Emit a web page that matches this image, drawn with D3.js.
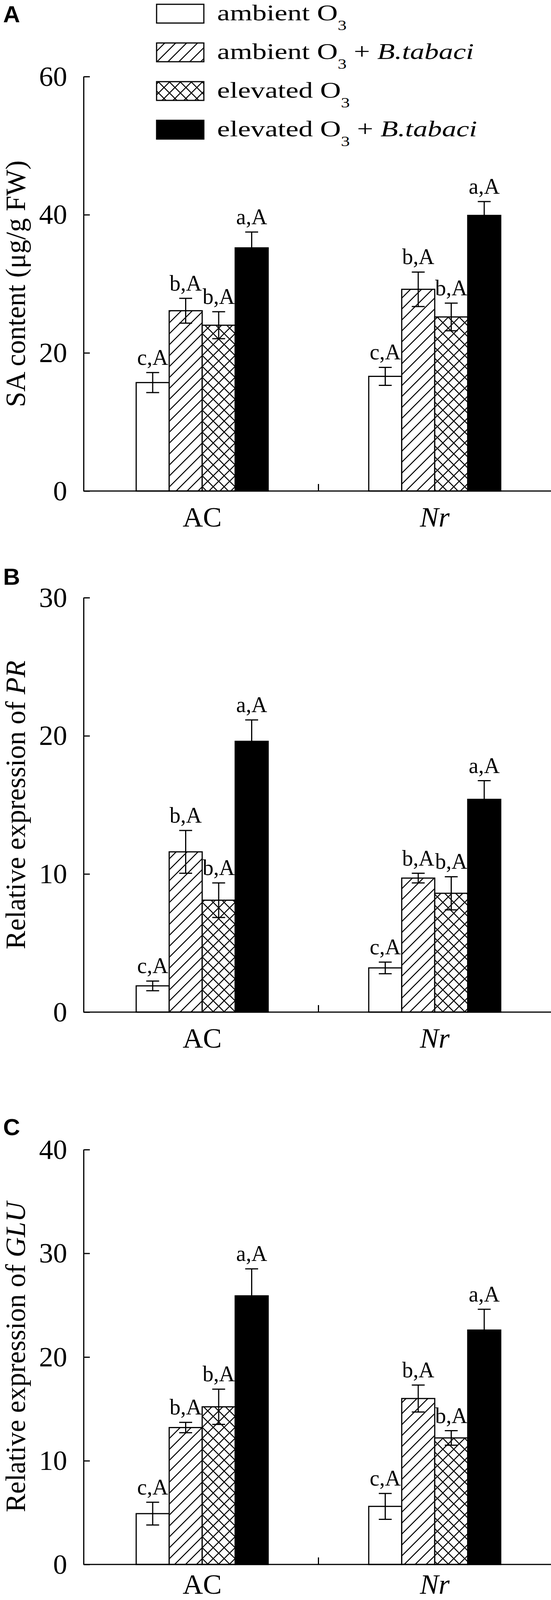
<!DOCTYPE html>
<html><head><meta charset="utf-8">
<script src="https://cdn.jsdelivr.net/npm/d3@7"></script>
<style>body{margin:0;background:#fff} svg{display:block} text{white-space:pre}</style>
</head><body><svg id="chart" width="1411" height="4108"></svg>
<script>
// ---------- data ----------
const categories = ["AC", "Nr"];
const treatments = ["ambient O3", "ambient O3 + B.tabaci", "elevated O3", "elevated O3 + B.tabaci"];
const treatmentBase = ["ambient", "ambient", "elevated", "elevated"];
const treatmentInsect = [false, true, false, true];

// Panel A: SA content (µg/g FW); rows = categories, cols = treatments
const saMeans = [[15.7, 26.1, 24.0, 35.2], [16.6, 29.2, 25.2, 39.9]];
const saErrs  = [[1.45, 1.8, 1.95, 2.3], [1.3, 2.5, 2.0, 2.0]];
const saLetters = [["c,A", "b,A", "b,A", "a,A"], ["c,A", "b,A", "b,A", "a,A"]];
const saTicks = [0, 20, 40, 60];

// Panel B: relative expression of PR
const prMeans = [[1.9, 11.6, 8.1, 19.6], [3.2, 9.7, 8.6, 15.4]];
const prErrs  = [[0.35, 1.55, 1.25, 1.55], [0.42, 0.35, 1.2, 1.35]];
const prLetters = [["c,A", "b,A", "b,A", "a,A"], ["c,A", "b,A", "b,A", "a,A"]];
const prTicks = [0, 10, 20, 30];

// Panel C: relative expression of GLU
const gluMeans = [[4.9, 13.2, 15.2, 25.9], [5.6, 16.0, 12.2, 22.6]];
const gluErrs  = [[1.1, 0.5, 1.7, 2.6], [1.25, 1.3, 0.7, 2.0]];
const gluLetters = [["c,A", "b,A", "b,A", "a,A"], ["c,A", "b,A", "b,A", "a,A"]];
const gluTicks = [0, 10, 20, 30, 40];

// ---------- layout ----------
const serif = "'Liberation Serif','Times New Roman',Times,serif";
const sans = "'Liberation Sans',Arial,Helvetica,sans-serif";
const panels = [
  {letter: "A", means: saMeans, errs: saErrs, letters: saLetters, ticks: saTicks, domain: [0, 60],
   yBottom: 1257, yTop: 196, letterY: 57, catY: 1348, title: ["SA content (μg/g FW)", null]},
  {letter: "B", means: prMeans, errs: prErrs, letters: prLetters, ticks: prTicks, domain: [0, 30],
   yBottom: 2591, yTop: 1530, letterY: 1497, catY: 2682, title: ["Relative expression of ", "PR"]},
  {letter: "C", means: gluMeans, errs: gluErrs, letters: gluLetters, ticks: gluTicks, domain: [0, 40],
   yBottom: 4005, yTop: 2943, letterY: 2906, catY: 4080, title: ["Relative expression of ", "GLU"]}
];
const axisX = 214, axisRight = 1411;

const svg = d3.select("#chart");
svg.append("rect").attr("width", 1411).attr("height", 4108).attr("fill", "#fff");
const defs = svg.append("defs");
function addPattern(id, d) {
  const p = defs.append("pattern").attr("id", id).attr("patternUnits", "userSpaceOnUse")
    .attr("width", 28).attr("height", 28);
  p.append("rect").attr("width", 28).attr("height", 28).attr("fill", "#fff");
  p.append("path").attr("d", d).attr("stroke", "#000").attr("stroke-width", 2.6).attr("fill", "none");
}
addPattern("diag", "M-7,7L7,-7M0,28L28,0M21,35L35,21");
addPattern("cross", "M-7,7L7,-7M0,28L28,0M21,35L35,21M-7,21L7,35M0,0L28,28M21,-7L35,7");
const fills = ["#fff", "url(#diag)", "url(#cross)", "#000"];

const x = d3.scaleBand().domain(categories).range([220, axisRight]);
const groupW = 338;
const xs = d3.scaleBand().domain(treatments).range([0, groupW]);

panels.forEach(p => {
  const y = d3.scaleLinear().domain(p.domain).range([p.yBottom, p.yTop]);
  const g = svg.append("g");

  // y axis
  const ax = g.append("g").attr("transform", `translate(${axisX},0)`)
    .call(d3.axisLeft(y).tickValues(p.ticks).tickSizeInner(-16).tickSizeOuter(0)
      .tickPadding(42).tickFormat(d3.format("d")));
  ax.selectAll("path,line").attr("stroke", "#000").attr("stroke-width", 3);
  ax.selectAll("text").attr("font-family", serif).attr("font-size", 72).attr("fill", "#000");

  // bars
  categories.forEach((c, ci) => {
    const gx = x(c) + (x.bandwidth() - groupW) / 2;
    treatments.forEach((t, ti) => {
      const v = p.means[ci][ti], e = p.errs[ci][ti];
      const bx = gx + xs(t), bw = xs.bandwidth(), cx = bx + bw / 2;
      g.append("rect").attr("x", bx).attr("y", y(v)).attr("width", bw).attr("height", y(0) - y(v))
        .attr("fill", fills[ti]).attr("stroke", "#000").attr("stroke-width", 3);
      const eb = g.append("g").attr("stroke", "#000").attr("stroke-width", 3);
      eb.append("line").attr("x1", cx).attr("x2", cx).attr("y1", y(v + e)).attr("y2", y(v - e));
      eb.append("line").attr("x1", cx - 16.5).attr("x2", cx + 16.5).attr("y1", y(v + e)).attr("y2", y(v + e));
      eb.append("line").attr("x1", cx - 16.5).attr("x2", cx + 16.5).attr("y1", y(v - e)).attr("y2", y(v - e));
      g.append("text").attr("x", cx).attr("y", y(v + e) - 20).attr("text-anchor", "middle")
        .attr("font-family", serif).attr("font-size", 56).text(p.letters[ci][ti]);
    });
    g.append("text").attr("x", x(c) + x.bandwidth() / 2).attr("y", p.catY).attr("text-anchor", "middle")
      .attr("font-family", serif).attr("font-size", 72).attr("font-style", c === "Nr" ? "italic" : "normal")
      .text(c);
  });

  // x baseline and middle tick
  g.append("line").attr("x1", axisX).attr("x2", axisRight).attr("y1", y(0)).attr("y2", y(0))
    .attr("stroke", "#000").attr("stroke-width", 3);
  g.append("line").attr("x1", x(categories[1])).attr("x2", x(categories[1]))
    .attr("y1", y(0)).attr("y2", y(0) - 18).attr("stroke", "#000").attr("stroke-width", 3);

  // y title
  const tt = g.append("text").attr("transform", `translate(64,${(p.yTop + p.yBottom) / 2}) rotate(-90)`)
    .attr("text-anchor", "middle").attr("font-family", serif).attr("font-size", 71);
  tt.append("tspan").text(p.title[0]);
  if (p.title[1]) tt.append("tspan").attr("font-style", "italic").text(p.title[1]);

  // panel letter
  g.append("text").attr("x", 8).attr("y", p.letterY).attr("font-family", sans).attr("font-weight", "bold")
    .attr("font-size", 60).text(p.letter);
});

// legend
const lg = svg.append("g");
treatments.forEach((t, i) => {
  const top = 11 + i * 99;
  lg.append("rect").attr("x", 401).attr("y", top).attr("width", 121).attr("height", 48)
    .attr("fill", fills[i]).attr("stroke", "#000").attr("stroke-width", 3);
  const tx = lg.append("text").attr("transform", `translate(556,${top + 41}) scale(1.27,1)`)
    .attr("font-family", serif).attr("font-size", 58);
  tx.append("tspan").text(treatmentBase[i] + " O");
  tx.append("tspan").attr("font-size", 36).attr("dy", 25).text("3");
  if (treatmentInsect[i]) {
    tx.append("tspan").attr("dy", -25).text(" + ");
    tx.append("tspan").attr("font-style", "italic").text("B.tabaci");
  }
});
</script>
</body></html>
